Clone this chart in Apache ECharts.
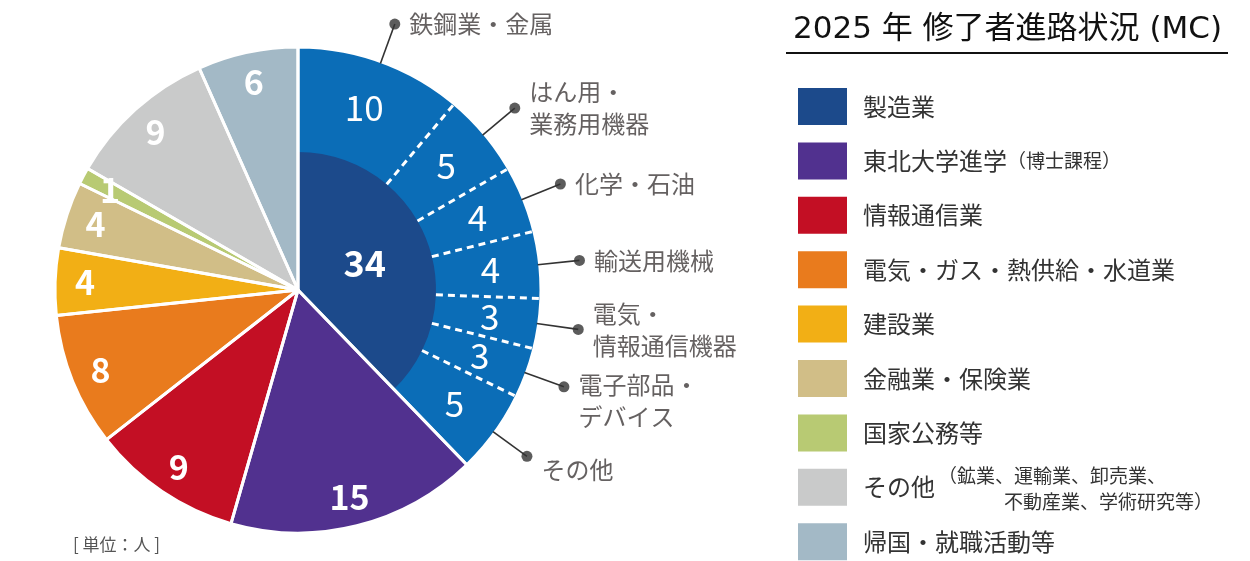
<!DOCTYPE html>
<html>
<head>
<meta charset="utf-8">
<script src="https://cdn.jsdelivr.net/npm/echarts@6/dist/echarts.min.js"></script>
<style>
  html, body { margin: 0; padding: 0; background: #fff; }
  #chart { width: 1250px; height: 561px; }
</style>
</head>
<body>
<div id="chart"></div>
<script>
// Career destinations of 2025 master's graduates (persons)
const categories = [
  '製造業',
  '東北大学進学（博士課程）',
  '情報通信業',
  '電気・ガス・熱供給・水道業',
  '建設業',
  '金融業・保険業',
  '国家公務等',
  'その他',
  '帰国・就職活動等'
];
const categoryValues = [34, 15, 9, 8, 4, 4, 1, 9, 6];
const categoryColors = ['#1c4a8b', '#51318f', '#c30f24', '#e97b1d', '#f2af15', '#d1be87', '#b8ca73', '#c9caca', '#a3b9c6'];

// Breakdown of manufacturing
const mfgSubNames = ['鉄鋼業・金属', 'はん用・\n業務用機器', '化学・石油', '輸送用機械', '電気・\n情報通信機器', '電子部品・\nデバイス', 'その他'];
const mfgSubValues = [10, 5, 4, 4, 3, 3, 5];

const otherNote = ['（鉱業、運輸業、卸売業、', '不動産業、学術研究等）'];
const titleText = '2025 年 修了者進路状況 (MC)';
const unitText = '[ 単位：人 ]';

// Layout (pixels)
const FONT = "'Noto Sans CJK JP', 'Noto Sans', sans-serif";
const TITLE_FONT = "'DejaVu Sans', 'Noto Sans CJK JP', sans-serif";
const CENTER = [298, 290];
const R = 243;          // outer radius
const R_INNER = 138;    // manufacturing total disc
const R_LABEL_IN = 177; // inner edge of the label ring for outer slices
const R_DOT = 283;      // callout dot radius
const MFG_BRIGHT = '#0b6db7';

const total = categoryValues.reduce((a, b) => a + b, 0);
const mfgTotal = categoryValues[0];

const transparent = 'rgba(0,0,0,0)';
const noEmphasis = { disabled: true };

// cumulative boundaries of the manufacturing breakdown
const subBounds = [];
const subMids = [];
let acc = 0;
mfgSubValues.forEach((v) => {
  subMids.push(acc + v / 2);
  acc += v;
  subBounds.push(acc);
});

const series = [];

// base fill of every category
series.push({
  type: 'pie',
  name: 'base',
  center: CENTER,
  radius: [0, R],
  startAngle: 90,
  clockwise: true,
  silent: true,
  emphasis: noEmphasis,
  label: { show: false },
  labelLine: { show: false },
  itemStyle: { borderWidth: 0 },
  data: categories.map((name, i) => ({ name, value: categoryValues[i], itemStyle: { color: categoryColors[i] } }))
});

// manufacturing breakdown ring
series.push({
  type: 'pie',
  name: 'mfgRing',
  center: CENTER,
  radius: [R_INNER, R],
  startAngle: 90,
  clockwise: true,
  silent: true,
  avoidLabelOverlap: false,
  emphasis: noEmphasis,
  labelLine: { show: false },
  itemStyle: { borderWidth: 0 },
  label: {
    show: true,
    position: 'inside',
    formatter: '{c}',
    color: '#fff',
    fontSize: 35,
    fontWeight: 'normal',
    fontFamily: FONT
  },
  data: mfgSubValues.map((v, i) => ({ name: 'sub' + i, value: v, itemStyle: { color: MFG_BRIGHT } }))
    .concat([{ name: 'rest', value: total - mfgTotal, itemStyle: { color: transparent }, label: { show: false } }])
});

// white dashed separators inside the ring
subBounds.slice(0, -1).forEach((b, i) => {
  series.push({
    type: 'line',
    name: 'sep' + i,
    coordinateSystem: 'polar',
    silent: true,
    symbol: 'none',
    clip: false,
    z: 5,
    lineStyle: { color: '#fff', width: 3, type: [7, 5] },
    data: [[R_INNER, b], [R - 1, b]]
  });
});

// white outlines between categories
series.push({
  type: 'pie',
  name: 'outline',
  center: CENTER,
  radius: [0, R],
  startAngle: 90,
  clockwise: true,
  silent: true,
  z: 6,
  emphasis: noEmphasis,
  label: { show: false },
  labelLine: { show: false },
  itemStyle: { color: transparent, borderColor: '#fff', borderWidth: 3 },
  data: categories.map((name, i) => ({ name, value: categoryValues[i] }))
});

// value labels of the outer categories
series.push({
  type: 'pie',
  name: 'outerLabels',
  center: CENTER,
  radius: [R_LABEL_IN, R],
  startAngle: 90,
  clockwise: true,
  silent: true,
  z: 7,
  avoidLabelOverlap: false,
  emphasis: noEmphasis,
  labelLine: { show: false },
  itemStyle: { color: transparent, borderWidth: 0 },
  label: {
    show: true,
    position: 'inside',
    formatter: '{c}',
    color: '#fff',
    fontSize: 34,
    fontWeight: 'bold',
    fontFamily: FONT
  },
  data: categories.map((name, i) => ({
    name,
    value: categoryValues[i],
    label: { show: i !== 0 }
  }))
});

// manufacturing total in the centre disc
series.push({
  type: 'pie',
  name: 'mfgTotal',
  center: CENTER,
  radius: [0, R_INNER],
  startAngle: 90,
  clockwise: true,
  silent: true,
  z: 7,
  avoidLabelOverlap: false,
  emphasis: noEmphasis,
  labelLine: { show: false },
  itemStyle: { color: transparent, borderWidth: 0 },
  label: {
    show: true,
    position: 'inside',
    formatter: '{c}',
    color: '#fff',
    fontSize: 36,
    fontWeight: 'bold',
    fontFamily: FONT
  },
  data: categories.map((name, i) => ({
    name,
    value: categoryValues[i],
    label: { show: i === 0 }
  }))
});

// callout leader lines for the breakdown
subMids.forEach((m, i) => {
  series.push({
    type: 'line',
    name: 'leader' + i,
    coordinateSystem: 'polar',
    silent: true,
    symbol: 'none',
    clip: false,
    z: 8,
    lineStyle: { color: '#333', width: 1.6 },
    data: [[R - 2, m], [R_DOT, m]]
  });
});

// callout dots and names; names in the lower right hang a little below their dot
const lowerRightFrom = total * (105 / 360);
series.push({
  type: 'scatter',
  name: 'callouts',
  coordinateSystem: 'polar',
  silent: true,
  z: 9,
  symbol: 'circle',
  symbolSize: 11,
  itemStyle: { color: '#333' },
  label: {
    show: true,
    position: 'right',
    distance: 9,
    formatter: '{b}',
    color: '#3e3a39',
    fontSize: 24,
    lineHeight: 32,
    fontFamily: FONT
  },
  data: mfgSubNames.map((name, i) => ({
    name,
    value: [R_DOT, subMids[i]],
    label: subMids[i] > lowerRightFrom ? { offset: [0, 14] } : {}
  }))
});

const option = {
  backgroundColor: '#fff',
  animation: false,
  textStyle: { fontFamily: FONT },
  title: {
    text: titleText,
    left: 793,
    top: 14,
    padding: 0,
    textStyle: { fontSize: 31, fontWeight: 'normal', color: '#111', fontFamily: TITLE_FONT }
  },
  polar: { center: CENTER, radius: 300 },
  angleAxis: { type: 'value', min: 0, max: total, startAngle: 90, clockwise: true, show: false },
  radiusAxis: { type: 'value', min: 0, max: 300, show: false },
  legend: {
    orient: 'vertical',
    left: 798,
    top: 88,
    height: 500,
    padding: 0,
    itemWidth: 49,
    itemHeight: 37,
    itemGap: 17.4,
    icon: 'rect',
    selectedMode: false,
    data: categories,
    itemStyle: { borderWidth: 0 },
    formatter: (name) => {
      const k = name.indexOf('（');
      return k < 0 ? '{m|' + name + '}' : '{m|' + name.slice(0, k) + '}{s|' + name.slice(k) + '}';
    },
    textStyle: {
      color: '#333',
      fontFamily: FONT,
      padding: [0, 0, 0, 11],
      rich: {
        m: { fontSize: 24, color: '#333', fontFamily: FONT },
        s: { fontSize: 19, color: '#333', fontFamily: FONT }
      }
    }
  },
  graphic: [
    {
      type: 'line',
      shape: { x1: 786, y1: 53, x2: 1228, y2: 53 },
      style: { stroke: '#111', lineWidth: 2 },
      silent: true
    },
    {
      type: 'text',
      left: 938,
      top: 466,
      style: { text: otherNote[0], fontSize: 19, fill: '#333', fontFamily: FONT },
      silent: true
    },
    {
      type: 'text',
      left: 1004,
      top: 492,
      style: { text: otherNote[1], fontSize: 19, fill: '#333', fontFamily: FONT },
      silent: true
    },
    {
      type: 'text',
      left: 73,
      top: 536,
      style: { text: unitText, fontSize: 17, fill: '#555', fontFamily: FONT },
      silent: true
    }
  ],
  series
};

const chart = echarts.init(document.getElementById('chart'), null, { renderer: 'canvas' });
chart.setOption(option);
</script>
</body>
</html>
